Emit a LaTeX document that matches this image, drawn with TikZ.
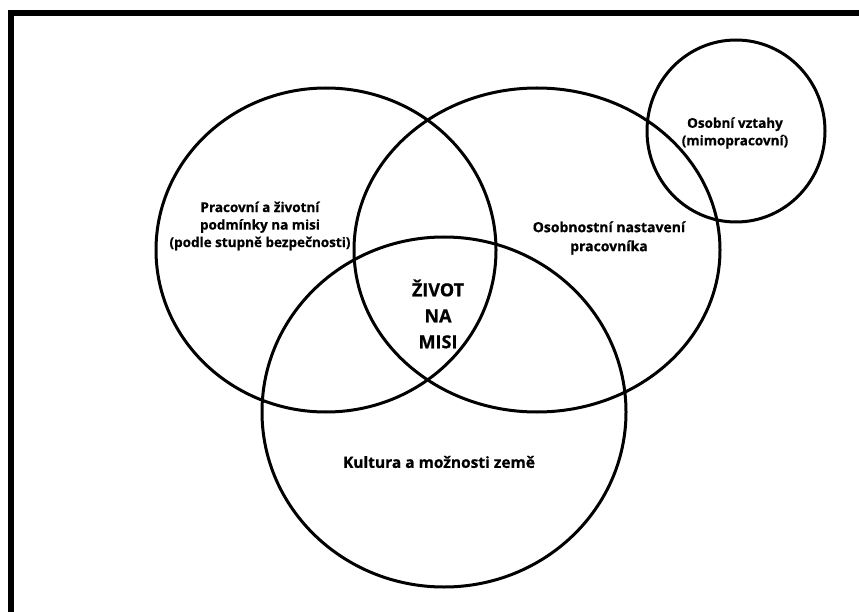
\documentclass[tikz,border=0pt]{standalone}
\usepackage{fontspec}
\setmainfont{Open Sans}[BoldFeatures={FakeBold=0.7}]
\usetikzlibrary{shapes.geometric}
\tikzset{
  ring/.style={ellipse, draw=black, line width=3pt, inner sep=0pt},
  lbl/.style={align=center, font=\bfseries\fontsize{13.5}{17.5}\selectfont, inner sep=0pt},
}
\begin{document}
\begin{tikzpicture}[x=1pt,y=-1pt]
\useasboundingbox (0,0) rectangle (859,612);
\draw[line width=6pt, line join=miter] (10.5,620) -- (10.5,13) -- (870,13);
\node[ring, minimum width=340pt, minimum height=324pt] (work) at (326,250) {};
\node[ring, minimum width=366pt, minimum height=324pt] (pers) at (537,250) {};
\node[ring, minimum width=364pt, minimum height=350pt] (cult) at (444,412) {};
\node[ring, minimum width=178pt, minimum height=182pt] (rel) at (736,131) {};
\node[lbl] (tw) at (260,226) {Pracovní a životní\\podmínky na misi\\(podle stupně bezpečnosti)};
\node[lbl, font=\bfseries\fontsize{14}{19}\selectfont] (tp) at (609,238) {Osobnostní nastavení\\pracovníka};
\node[lbl] (tr) at (735,133) {Osobní vztahy\\(mimopracovní)};
\node[lbl, font=\bfseries\fontsize{15.5}{20}\selectfont] (tc) at (439,462) {Kultura a možnosti země};
\node[lbl, font=\bfseries\fontsize{18}{26}\selectfont] (tm) at (438,314) {ŽIVOT\\NA\\MISI};
\end{tikzpicture}
\end{document}
